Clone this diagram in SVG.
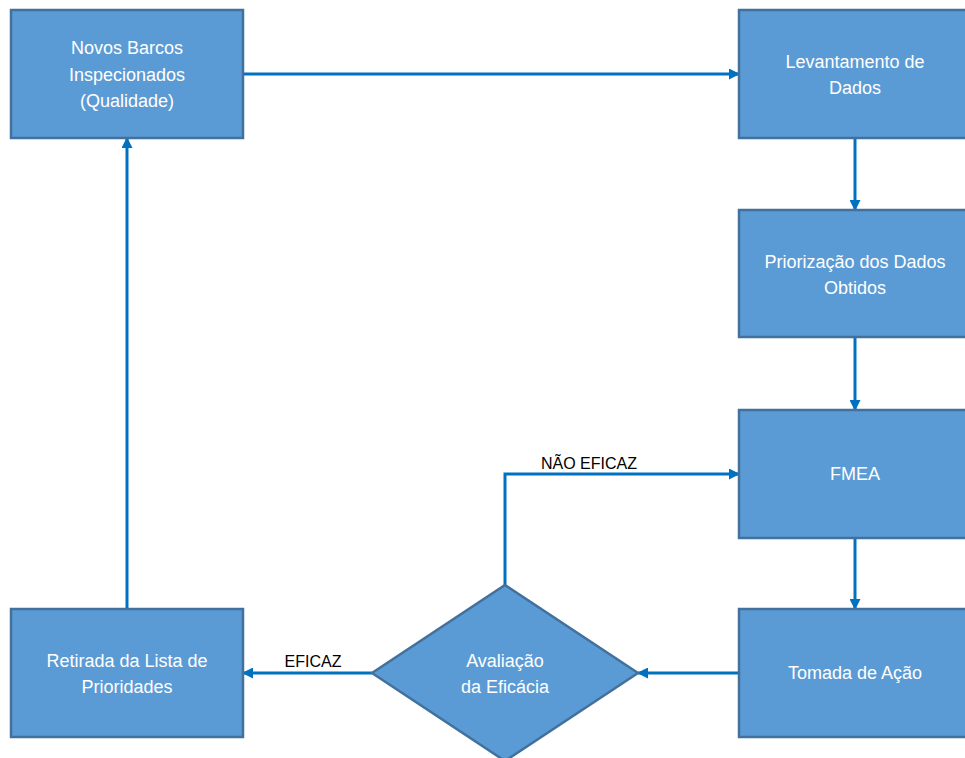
<svg xmlns="http://www.w3.org/2000/svg" width="965" height="758" viewBox="0 0 965 758">
<defs>
<marker id="ah" markerWidth="11" markerHeight="11" refX="10" refY="5.5" orient="auto" markerUnits="userSpaceOnUse">
<path d="M0,0 L11,5.5 L0,11 Z" fill="#0070C0"/>
</marker>
<style>
.box{fill:#5B9BD5;stroke:#41719C;stroke-width:2.5}
.t{font-family:"Liberation Sans",Arial,sans-serif;font-size:18px;fill:#FFFFFF;text-anchor:middle}
.lbl{font-family:"Liberation Sans",Arial,sans-serif;font-size:16px;fill:#000000;text-anchor:middle}
.c{fill:none;stroke:#0070C0;stroke-width:3;marker-end:url(#ah)}
</style>
</defs>
<rect width="965" height="758" fill="#FFFFFF"/>
<g id="connectors">
<path class="c" d="M243,74 H739"/>
<path class="c" d="M855,138 V210"/>
<path class="c" d="M855,337 V410"/>
<path class="c" d="M855,538 V609"/>
<path class="c" d="M739,673 H638"/>
<path class="c" d="M372,673 H243"/>
<path class="c" d="M505,585 V474 H739"/>
<path class="c" d="M127,609 V138"/>
<text class="lbl" x="589" y="469">NÃO EFICAZ</text>
<text class="lbl" x="313" y="667">EFICAZ</text>
</g>
<g id="novos">
<rect class="box" x="11" y="10" width="232" height="128"/>
<text class="t" x="127" y="54">Novos Barcos</text>
<text class="t" x="127" y="81">Inspecionados</text>
<text class="t" x="127" y="107">(Qualidade)</text>
</g>
<g id="levantamento">
<rect class="box" x="739" y="10" width="232" height="128"/>
<text class="t" x="855" y="68">Levantamento de</text>
<text class="t" x="855" y="94">Dados</text>
</g>
<g id="priorizacao">
<rect class="box" x="739" y="210" width="232" height="127"/>
<text class="t" x="855" y="268">Priorização dos Dados</text>
<text class="t" x="855" y="294">Obtidos</text>
</g>
<g id="fmea">
<rect class="box" x="739" y="410" width="232" height="128"/>
<text class="t" x="855" y="480">FMEA</text>
</g>
<g id="tomada">
<rect class="box" x="739" y="609" width="232" height="128"/>
<text class="t" x="855" y="679">Tomada de Ação</text>
</g>
<g id="avaliacao">
<path class="box" d="M505,585 L638,673 L505,761 L372,673 Z"/>
<text class="t" x="505" y="667">Avaliação</text>
<text class="t" x="505" y="693">da Eficácia</text>
</g>
<g id="retirada">
<rect class="box" x="11" y="609" width="232" height="128"/>
<text class="t" x="127" y="667">Retirada da Lista de</text>
<text class="t" x="127" y="693">Prioridades</text>
</g>
</svg>
